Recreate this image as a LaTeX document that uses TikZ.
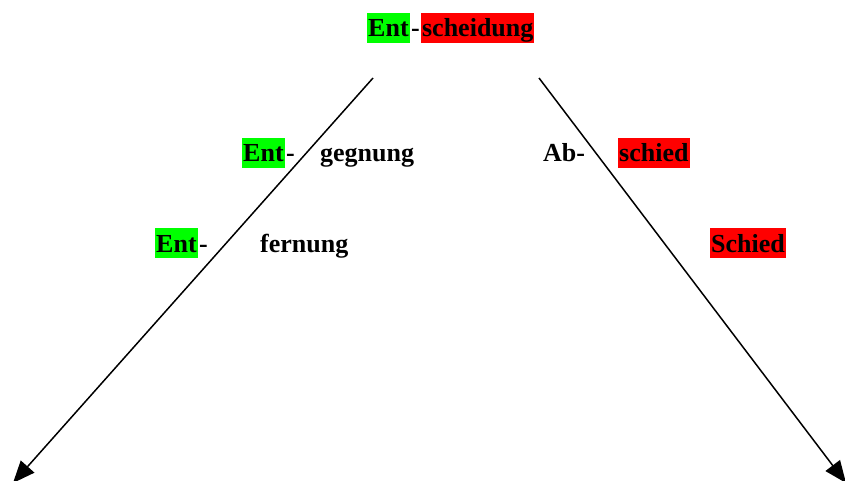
\documentclass[tikz,border=0pt]{standalone}
\usepackage{fontspec}
\setmainfont{Liberation Serif}
\usetikzlibrary{positioning,arrows.meta}
\definecolor{entgreen}{RGB}{0,255,0}
\definecolor{schred}{RGB}{255,0,0}
\tikzset{
  word/.style={inner sep=0pt, inner xsep=1pt, text height=24pt, text depth=6pt,
    font=\fontsize{26}{30}\selectfont\bfseries, anchor=base west},
  greenword/.style={word, fill=entgreen},
  redword/.style={word, fill=schred},
  branch/.style={line width=1.5pt, -{Triangle[length=22pt,width=18pt]}}
}
\begin{document}
\begin{tikzpicture}[x=1pt, y=-1pt]

  \useasboundingbox (0,0) rectangle (845,481);

  % top word
  \node[greenword] (ent0) at (367,37) {Ent};
  \node[word, right=0pt of ent0.base east, anchor=base west] (dash0) {-};
  \node[redword, right=0pt of dash0.base east, anchor=base west] (scheid) {scheidung};

  % left branch
  \node[greenword] (ent1) at (242,162) {Ent};
  \node[word, right=0pt of ent1.base east, anchor=base west] (dash1) {-};
  \node[word] (gegnung) at (319,162) {gegnung};

  \node[greenword] (ent2) at (155,252) {Ent};
  \node[word, right=0pt of ent2.base east, anchor=base west] (dash2) {-};
  \node[word] (fernung) at (259,252) {fernung};

  % right branch
  \node[word] (ab) at (542,162) {Ab-};
  \node[redword] (schied) at (618,162) {schied};
  \node[redword] (schiedcap) at (710,252) {Schied};

  \coordinate (ltop) at (373,78);
  \coordinate (lend) at (13,483);
  \coordinate (rtop) at (539,78);
  \coordinate (rend) at (846,483);

  \draw[branch] (ltop) -- (lend);
  \draw[branch] (rtop) -- (rend);

\end{tikzpicture}
\end{document}
